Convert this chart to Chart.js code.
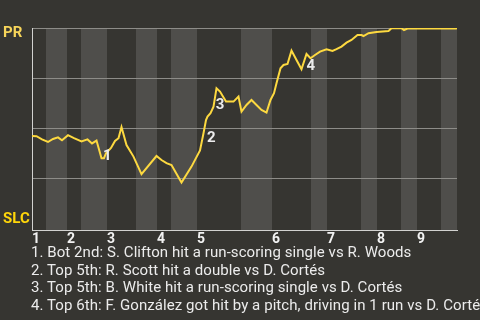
<!DOCTYPE html>
<html lang="en">
<head>
<meta charset="UTF-8">
<title>Win probability</title>
<script src="https://cdn.jsdelivr.net/npm/chart.js"></script>
<style>
  html, body { margin: 0; padding: 0; background: #363531; width: 480px; height: 320px; overflow: hidden; }
  .wrap { position: absolute; left: 0; top: 0; width: 480px; height: 248px; }
  .notes { position: absolute; left: 31px; top: 244px; font: 15px Roboto, sans-serif; line-height: 17.7px;
           letter-spacing: 0.07px; color: #ececec; white-space: nowrap; }
</style>
</head>
<body>
<div class="wrap"><canvas id="wp"></canvas></div>
<div class="notes" id="notes"></div>
<script>
// play index along the game (x) and PR win probability in % (y)
var plays = [0, 0.9, 2.0, 3.2, 4.2, 5.2, 6.0, 7.2, 8.4, 9.9, 11.1, 12.0, 12.9, 13.9, 14.4, 14.8, 15.8, 16.6, 17.3, 17.9,
    18.9, 20.3, 21.9, 24.9, 25.9, 26.9, 27.9, 29.9, 31.9, 33.6, 34.3, 34.8, 35.1, 35.7, 36.3, 36.9, 37.6, 38.8, 40.3, 41.3,
    41.9, 42.9, 43.9, 44.9, 45.9, 46.9, 47.7, 48.4, 48.9, 49.7, 50.3, 51.1, 51.9, 52.9, 53.9, 54.9, 55.7, 56.6, 57.6, 58.9,
    60.1, 60.9, 61.9, 62.9, 63.9, 65.1, 65.9, 66.3, 67.3, 68.9, 71.3, 71.9, 73.9, 74.4, 75.1, 84.8, 85];
var winPR = [46.0, 45.9, 44.3, 43.0, 44.5, 45.3, 43.9, 46.4, 44.9, 43.3, 44.3, 42.3, 43.7, 34.9, 34.9, 37.4, 40.0, 43.5, 44.9, 50.5,
    41.5, 35.7, 26.9, 36.0, 34.0, 32.4, 31.5, 22.7, 30.7, 38.8, 47.4, 54.0, 55.7, 57.4, 60.7, 69.9, 68.2, 63.2, 63.2, 65.7,
    58.2, 61.5, 64.0, 61.5, 59.0, 57.7, 64.0, 67.4, 72.4, 79.9, 81.5, 82.0, 88.7, 84.0, 79.4, 87.0, 84.9, 86.5, 88.2, 89.4,
    88.5, 89.4, 90.7, 92.7, 94.0, 96.5, 96.5, 96.0, 97.4, 98.0, 98.5, 99.9, 99.9, 99.0, 99.7, 99.7, 100];

// start of each half inning (top 1, bot 1, top 2 ...), last value = end of game
var halfStarts = [0, 2.8, 7, 9.8, 15, 20.8, 25, 27.8, 33, 41.8, 48, 55.8, 59, 65.8, 69, 73.8, 77, 81.8, 85];
var innings = ['1', '2', '3', '4', '5', '6', '7', '8', '9'];

var eventPlays = [13.9, 34.3, 36.9, 54.9];
var eventNotes = [
    'Bot 2nd: S. Clifton hit a run-scoring single vs R. Woods',
    'Top 5th: R. Scott hit a double vs D. Cortés',
    'Top 5th: B. White hit a run-scoring single vs D. Cortés',
    'Top 6th: F. González got hit by a pitch, driving in 1 run vs D. Cortés'
];

var teamTicks = [4.5, 97.5];
var teamNames = ['SLC', 'PR'];

document.getElementById('notes').innerHTML = eventNotes.map(function (t, i) {
    return '<div>' + (i + 1) + '. ' + t + '</div>';
}).join('');

Chart.defaults.font.family = 'Roboto';

// grey bands behind the bottom halves
var bandsPlugin = {
    id: 'bands',
    beforeDraw: function (chart) {
        var ctx = chart.ctx, area = chart.chartArea, x = chart.scales.x;
        ctx.save();
        ctx.fillStyle = '#4f4e4b';
        for (var i = 1; i < halfStarts.length - 1; i += 2) {
            var a = x.getPixelForValue(halfStarts[i]);
            var b = x.getPixelForValue(halfStarts[i + 1]);
            ctx.fillRect(a, area.top, b - a, area.bottom - area.top);
        }
        ctx.restore();
    }
};

// numbered markers next to the key plays
var shifts = [[1.5, -2.3], [3.4, 5.4], [-0.7, 17.4], [0, 12]];
var markersPlugin = {
    id: 'markers',
    afterDatasetsDraw: function (chart) {
        var ctx = chart.ctx, xs = chart.scales.x, ys = chart.scales.y;
        ctx.save();
        ctx.font = 'bold 15px Roboto';
        ctx.fillStyle = '#ececec';
        ctx.textAlign = 'left';
        ctx.textBaseline = 'middle';
        eventPlays.forEach(function (p, i) {
            var k = plays.indexOf(p);
            var px = xs.getPixelForValue(p) + shifts[i][0];
            var py = ys.getPixelForValue(winPR[k]) + shifts[i][1];
            ctx.fillText(String(i + 1), px, py);
        });
        ctx.restore();
    }
};

var chart = new Chart(document.getElementById('wp'), {
    type: 'line',
    data: {
        datasets: [{
            data: plays.map(function (p, i) { return { x: p, y: winPR[i] }; }),
            borderColor: '#fdd940',
            borderWidth: 2,
            pointRadius: 0,
            tension: 0,
            yAxisID: 'y'
        }]
    },
    options: {
        responsive: true,
        maintainAspectRatio: false,
        animation: false,
        layout: { padding: { left: 3, top: 28, right: 23, bottom: 0 } },
        plugins: { legend: { display: false }, tooltip: { enabled: false } },
        scales: {
            x: {
                type: 'linear',
                min: 0,
                max: 85,
                grid: { display: false, drawTicks: false },
                border: { display: true, color: '#d2d2d0' },
                afterBuildTicks: function (s) {
                    s.ticks = halfStarts.filter(function (v, i) { return i % 2 === 0 && i < 18; })
                        .map(function (v) { return { value: v }; });
                },
                afterFit: function (s) { s.height = 18; },
                ticks: {
                    autoSkip: false,
                    maxRotation: 0,
                    align: 'start',
                    padding: 1,
                    color: '#f2f2f2',
                    font: { size: 14, weight: 'bold' },
                    callback: function (v, i) { return innings[i]; }
                }
            },
            y: {
                position: 'left',
                weight: 0,
                min: -1,
                max: 100,
                afterBuildTicks: function (s) {
                    s.ticks = [25, 50, 75, 100].map(function (v) { return { value: v }; });
                },
                afterFit: function (s) { s.width = 0; },
                ticks: { display: false },
                grid: { color: '#8d8c88', drawTicks: false },
                border: { display: true, color: '#d2d2d0' }
            },
            yl: {
                position: 'left',
                weight: 1,
                min: -1,
                max: 100,
                afterBuildTicks: function (s) {
                    s.ticks = teamTicks.map(function (v) { return { value: v }; });
                },
                afterFit: function (s) { s.width = 29; },
                grid: { display: false },
                border: { display: false },
                ticks: {
                    crossAlign: 'far',
                    padding: 0,
                    font: { size: 15, weight: 'bold' },
                    color: function (c) { return c.tick && c.tick.value > 50 ? '#f7d55a' : '#ffd60a'; },
                    callback: function (v, i) { return teamNames[i]; }
                }
            }
        }
    },
    plugins: [bandsPlugin, markersPlugin]
});
</script>
</body>
</html>
